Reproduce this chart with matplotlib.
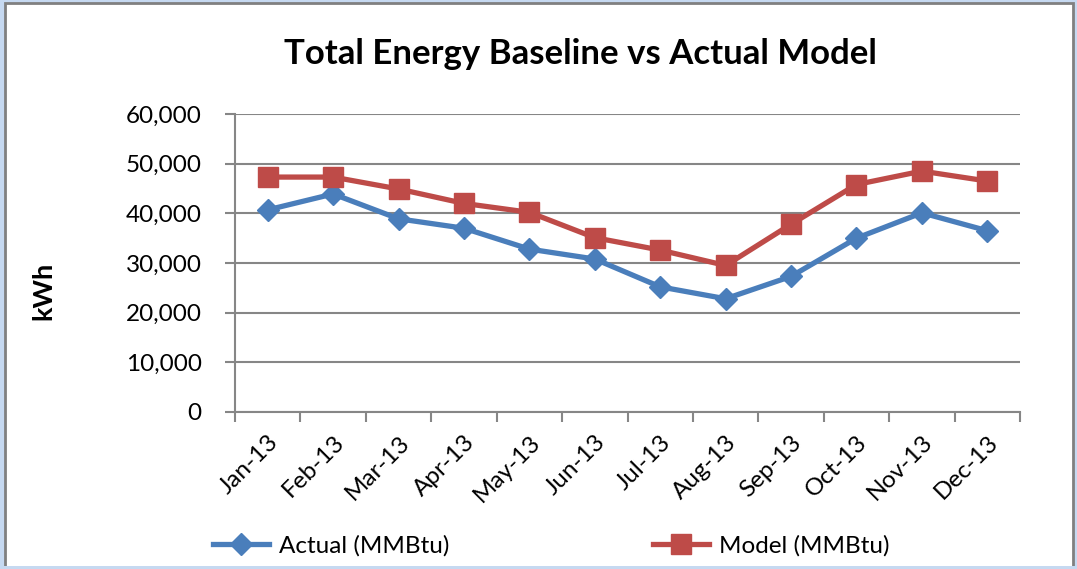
import matplotlib.pyplot as plt
from matplotlib.patches import Rectangle
from matplotlib.ticker import FuncFormatter, MultipleLocator

months = ["Jan-13", "Feb-13", "Mar-13", "Apr-13", "May-13", "Jun-13",
          "Jul-13", "Aug-13", "Sep-13", "Oct-13", "Nov-13", "Dec-13"]
actual = [40700, 43900, 38900, 37000, 32800, 30800,
          25200, 22800, 27300, 35000, 40100, 36500]
model = [47300, 47300, 44900, 42000, 40200, 35100,
         32600, 29500, 37800, 45800, 48500, 46500]

plt.rcParams['font.family'] = ['Lato', 'DejaVu Sans']

fig = plt.figure(figsize=(10.77, 5.69), dpi=100)
fig.patch.set_facecolor("#c6d9f1")
# white chart area with grey frame
fig.patches.append(Rectangle((5 / 1077, -0.01), 1068 / 1077, 1 - 3 / 569 + 0.01,
                             transform=fig.transFigure, facecolor="white",
                             edgecolor="#808080", linewidth=2, zorder=-10))
fig.patches.append(Rectangle((0, 0), 1, 3 / 569, transform=fig.transFigure,
                             facecolor="#c6d9f1", edgecolor="none", zorder=-9))

ax = fig.add_axes([235 / 1077, 1 - 412 / 569, 785 / 1077, 298 / 569])
ax.set_facecolor("white")

x = range(len(months))
ax.plot(x, actual, color="#4a7ebb", linewidth=3.8, marker="D", markersize=11,
        label="Actual (MMBtu)", zorder=3)
ax.plot(x, model, color="#be4b48", linewidth=3.8, marker="s", markersize=14,
        label="Model (MMBtu)", zorder=3)

ax.set_xlim(-0.5, len(months) - 0.5)
ax.set_ylim(0, 60000)
ax.yaxis.set_major_locator(MultipleLocator(10000))
ax.yaxis.set_major_formatter(FuncFormatter(lambda v, p: f"{int(v):,}"))
ax.grid(axis="y", color="#868686", linewidth=1.5)
ax.set_axisbelow(True)

ax.set_xticks(list(x))
ax.set_xticklabels(months, rotation=45, ha="right", rotation_mode="anchor", fontsize=17.5)
ax.tick_params(axis="x", which="major", length=0, pad=14)
ax.set_xticks([i - 0.5 for i in range(len(months) + 1)], minor=True)
ax.tick_params(axis="x", which="minor", length=7, width=1.5, color="#868686")
ax.tick_params(axis="y", length=7, width=1.5, color="#868686", labelsize=17.5, pad=17)

for s in ["top", "right"]:
    ax.spines[s].set_visible(False)
for s in ["left", "bottom"]:
    ax.spines[s].set_color("#868686")
    ax.spines[s].set_linewidth(1.5)

fig.text(0.5385, 0.905, "Total Energy Baseline vs Actual Model", ha="center", va="center",
         fontsize=25, fontweight="bold")
fig.text(0.04, 0.488, "kWh", rotation=90, ha="center", va="center",
         fontsize=19.5, fontweight="bold")

fig.legend(loc="center", bbox_to_anchor=(0.512, 0.04), ncol=2, frameon=False,
           fontsize=17.5, handlelength=2.3, columnspacing=8.4, handletextpad=0.4)

fig.savefig("out.png", dpi=100, facecolor=fig.get_facecolor())
